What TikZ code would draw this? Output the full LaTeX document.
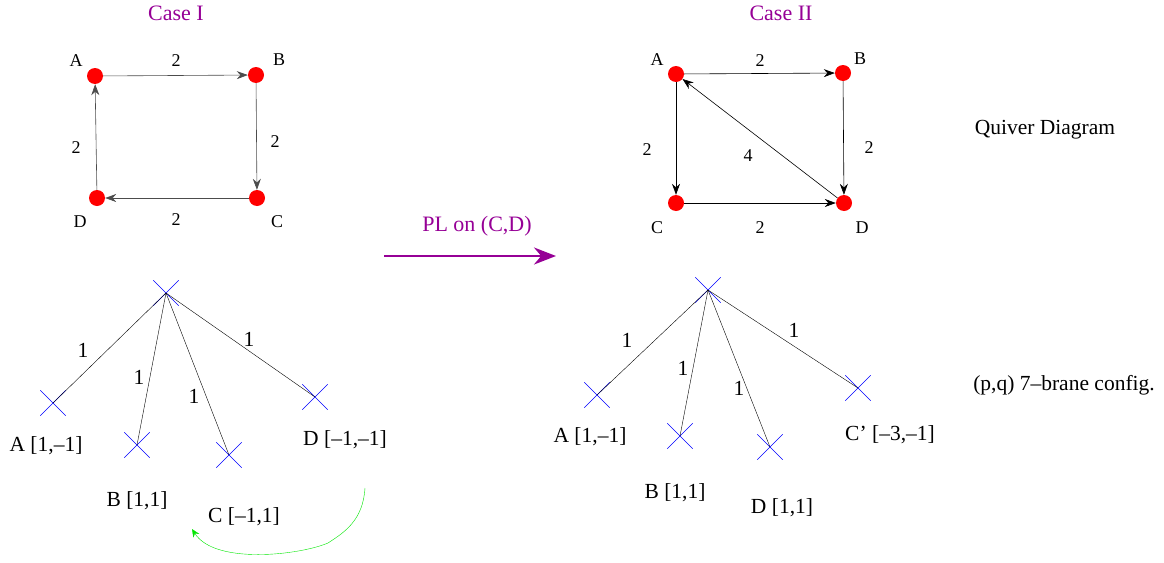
\documentclass[tikz,border=0pt]{standalone}
\usepackage{fontspec}
\setmainfont{Liberation Serif}
\usepackage{xcolor}
\usetikzlibrary{positioning,arrows.meta,shapes.misc}
\definecolor{casepurple}{RGB}{150,0,150}
\definecolor{brightgreen}{RGB}{0,230,0}

\begin{document}
\begin{tikzpicture}[
  x=1pt, y=-1pt,
  dot/.style={circle, fill=red, minimum size=16pt, inner sep=0pt},
  lbl/.style={font=\fontsize{18}{20}\selectfont, inner sep=1pt},
  title/.style={font=\fontsize{22}{24}\selectfont, text=casepurple},
  brane/.style={draw=blue, cross out, minimum size=25pt, inner sep=0pt, thin},
  blbl/.style={font=\fontsize{21.5}{24}\selectfont, inner sep=1pt},
  arr/.style={-{Stealth[length=11pt, width=8pt]}, semithick},
  leg/.style={thin},
]
\useasboundingbox (0,0) rectangle (1164,562);

% Case I quiver
\node[title] (t1) at (176,13) {Case I};
\node[dot] (A1) at (95,76) {};
\node[dot] (B1) at (256,75) {};
\node[dot] (C1) at (257,198) {};
\node[dot] (D1) at (97,198) {};
\node[lbl] at (76,61) {A};
\node[lbl] at (279,60) {B};
\node[lbl] at (277,222) {C};
\node[lbl] at (80,222) {D};
\foreach \a/\b in {A1/B1, B1/C1, C1/D1, D1/A1}{ \draw[arr, gray!60!black] (\a) -- (\b); }
\node[lbl] (e1) at (176,61) {2};
\node[lbl] (e2) at (275,142) {2};
\node[lbl] (e3) at (176,220) {2};
\node[lbl] (e4) at (76,148) {2};

% Case II quiver
\node[title] (t2) at (781,13) {Case II};
\node[dot] (A2) at (676,74) {};
\node[dot] (B2) at (843,73) {};
\node[dot] (C2) at (676,203) {};
\node[dot] (D2) at (844,203) {};
\node[lbl] at (657,60) {A};
\node[lbl] at (860,59) {B};
\node[lbl] at (657,228) {C};
\node[lbl] at (862,228) {D};
\foreach \a/\b in {A2/B2, A2/C2, C2/D2, B2/D2, D2/A2}{ \draw[arr] (\a) -- (\b); }
\node[lbl] (f1) at (760,61) {2};
\node[lbl] (f2) at (647,150) {2};
\node[lbl] (f3) at (748,156) {4};
\node[lbl] (f4) at (869,148) {2};
\node[lbl] (f5) at (760,228) {2};

\node[blbl] (qd) at (1045,130) {Quiver Diagram};

% mutation arrow
\node[title] (pl) at (477,226) {PL on (C,D)};
\coordinate (p1) at (384,256);
\coordinate (p2) at (556,256);
\draw[casepurple, line width=2.4pt, -{Stealth[length=22pt, width=17pt]}] (p1) -- (p2);

% Case I branes
\node[brane] (X1) at (166,293) {};
\node[brane] (a1) at (53,403) {};
\node[brane] (b1) at (137,445) {};
\node[brane] (c1) at (229,455) {};
\node[brane] (d1) at (315,397) {};
\foreach \s in {a1, b1, c1, d1}{ \draw[leg] (X1.center) -- (\s.center); }
\node[blbl] at (83,350) {1};
\node[blbl] at (139,377) {1};
\node[blbl] at (194,396) {1};
\node[blbl] at (249,339) {1};
\node[blbl] (la1) at (46,446) {A [1,–1]};
\node[blbl] (lb1) at (137,501) {B [1,1]};
\node[blbl] (lc1) at (244,517) {C [–1,1]};
\node[blbl] (ld1) at (345,440) {D [–1,–1]};

\coordinate (g1) at (365,488);
\coordinate (g2) at (192,529);
\draw[brightgreen, -{Stealth[length=8pt, width=7pt]}] (g1) .. controls (363,520) and (345,532) .. (328,543)
  .. controls (300,555) and (215,565) .. (g2);

% Case II branes
\node[brane] (X2) at (708,290) {};
\node[brane] (a2) at (597,395) {};
\node[brane] (b2) at (680,436) {};
\node[brane] (d2) at (770,447) {};
\node[brane] (c2) at (858,388) {};
\foreach \s in {a2, b2, d2, c2}{ \draw[leg] (X2.center) -- (\s.center); }
\node[blbl] at (627,340) {1};
\node[blbl] at (683,368) {1};
\node[blbl] at (739,388) {1};
\node[blbl] at (794,330) {1};
\node[blbl] (la2) at (590,437) {A [1,–1]};
\node[blbl] (lb2) at (675,493) {B [1,1]};
\node[blbl] (ld2) at (782,508) {D [1,1]};
\node[blbl] (lc2) at (890,435) {C’ [–3,–1]};

\node[blbl] (pq) at (1064,385) {(p,q) 7–brane config.};
\end{tikzpicture}
\end{document}
